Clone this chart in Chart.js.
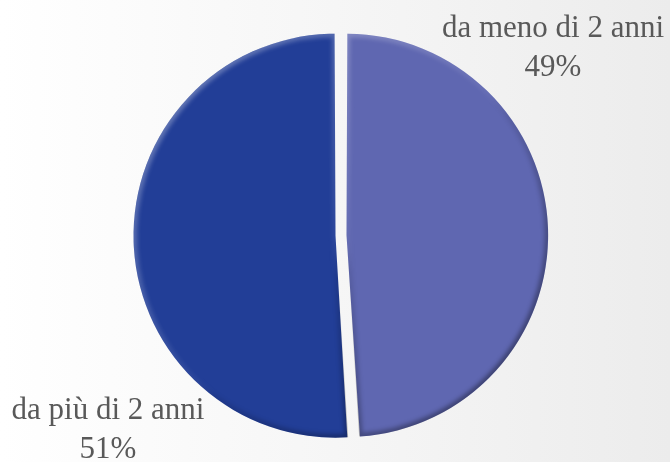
<!DOCTYPE html>
<html lang="it">
<head>
<meta charset="UTF-8">
<title>Anzianità</title>
<script src="https://cdn.jsdelivr.net/npm/chart.js"></script>
<style>
  html, body { margin: 0; padding: 0; }
  body { width: 670px; height: 462px; background: linear-gradient(to right, #ffffff 0%, #f6f6f6 50%, #ececec 100%); }
  #wrap { width: 670px; height: 462px; position: relative; }
</style>
</head>
<body>
<div id="wrap"><canvas id="myChart"></canvas></div>
<script>
const categories = ['da meno di 2 anni', 'da più di 2 anni'];
const values = [49, 51];
const sliceColors = ['#5f67b1', '#223e97'];

// labels sit outside the pie: top-right and bottom-left
const labelSpots = [
  { x: 553, y: 37 },
  { x: 108, y: 419 }
];

const bevel = {
  id: 'bevel',
  afterDatasetsDraw(chart) {
    const ctx = chart.ctx;
    const meta = chart.getDatasetMeta(0);
    meta.data.forEach(arc => {
      const p = arc.getProps(['x', 'y', 'startAngle', 'endAngle', 'outerRadius', 'circumference'], true);
      const mid = (p.startAngle + p.endAngle) / 2;
      // chart.js moves an arc by offset / 4 and grows it a bit too
      const off = (arc.options.offset || 0) / 4;
      const fix = 1 - Math.sin(Math.min(Math.PI, p.circumference || 0));
      const cx = p.x + Math.cos(mid) * off;
      const cy = p.y + Math.sin(mid) * off;
      const r = p.outerRadius + off * fix;
      ctx.save();
      ctx.beginPath();
      ctx.moveTo(cx, cy);
      ctx.arc(cx, cy, r, p.startAngle, p.endAngle);
      ctx.closePath();
      ctx.clip();
      const g = ctx.createLinearGradient(cx - r, cy - r, cx + r, cy + r);
      g.addColorStop(0, 'rgba(255,255,255,0.4)');
      g.addColorStop(0.5, 'rgba(255,255,255,0.05)');
      g.addColorStop(0.55, 'rgba(0,0,0,0.08)');
      g.addColorStop(1, 'rgba(0,0,0,0.5)');
      ctx.filter = 'blur(2px)';
      ctx.lineWidth = 7;
      ctx.strokeStyle = g;
      ctx.beginPath();
      ctx.moveTo(cx, cy);
      ctx.arc(cx, cy, r, p.startAngle, p.endAngle);
      ctx.closePath();
      ctx.stroke();
      ctx.restore();
    });
  },
  afterDraw(chart) {
    const ctx = chart.ctx;
    ctx.save();
    ctx.fillStyle = '#595959';
    ctx.textAlign = 'center';
    ctx.textBaseline = 'alphabetic';
    ctx.font = '31px "Liberation Serif", "DejaVu Serif", serif';
    categories.forEach((c, i) => {
      const s = labelSpots[i];
      ctx.fillText(c, s.x, s.y);
      ctx.fillText(values[i] + '%', s.x, s.y + 39);
    });
    ctx.restore();
  }
};

const ctx = document.getElementById('myChart');
new Chart(ctx, {
  type: 'pie',
  data: {
    labels: categories,
    datasets: [{
      data: values,
      backgroundColor: sliceColors,
      borderWidth: 0,
      offset: 22
    }]
  },
  options: {
    responsive: true,
    maintainAspectRatio: false,
    animation: false,
    layout: { padding: { left: 12, right: 0, top: 28, bottom: 19 } },
    plugins: {
      legend: { display: false },
      tooltip: { enabled: false }
    }
  },
  plugins: [bevel]
});
</script>
</body>
</html>
